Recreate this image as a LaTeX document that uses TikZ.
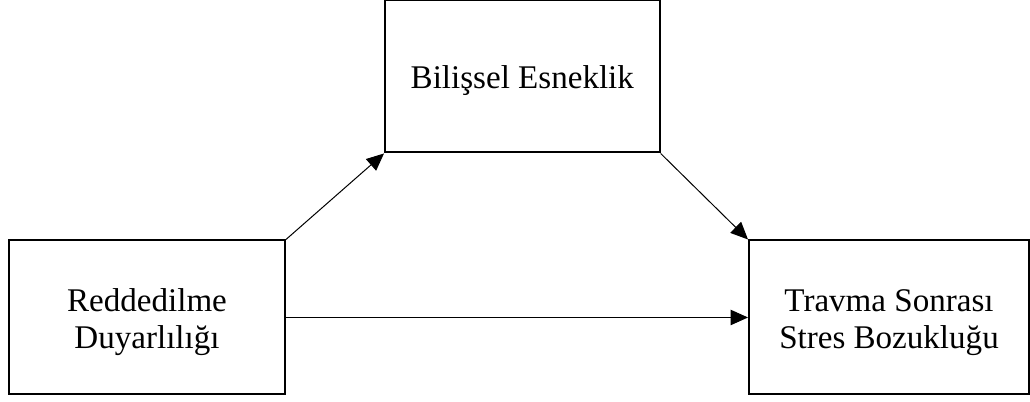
\documentclass[tikz,border=0pt]{standalone}
\usepackage{fontspec}
\setmainfont{Liberation Serif}
\usepackage{tikz}
\usetikzlibrary{positioning,arrows.meta}
\newcommand{\toppad}{\rule{0pt}{24pt}}

\begin{document}
\begin{tikzpicture}
\tikzstyle{main}=[rectangle, draw=black, line width=1.5pt, minimum width=207pt, minimum height=115.5pt, align=center, inner sep=0pt, font=\fontsize{24.8}{27.5}\selectfont]
\tikzstyle{connect}=[-{Triangle[length=13pt,width=11.5pt]}, line width=0.75pt]
  \useasboundingbox (0pt,0pt) rectangle (772.5pt,-300.75pt);
  \node[main] (reddnode) at (110.25pt,-238.1pt) {\toppad Reddedilme\\Duyarlılığı};
  \node[main, minimum width=210pt] (tssbnode) [right=346.5pt of reddnode] {\toppad Travma Sonrası\\Stres Bozukluğu};
  \node[main, minimum width=206pt, minimum height=114.5pt] (bilisnode) [above right=64.5pt and 73.5pt of reddnode.north east, anchor=south west] {\toppad Bilişsel Esneklik};
  \path (reddnode.north east) edge [connect] (bilisnode.south west)
        (bilisnode.south east) edge [connect] (tssbnode.north west)
        (reddnode) edge [connect] (tssbnode);
\end{tikzpicture}
\end{document}
